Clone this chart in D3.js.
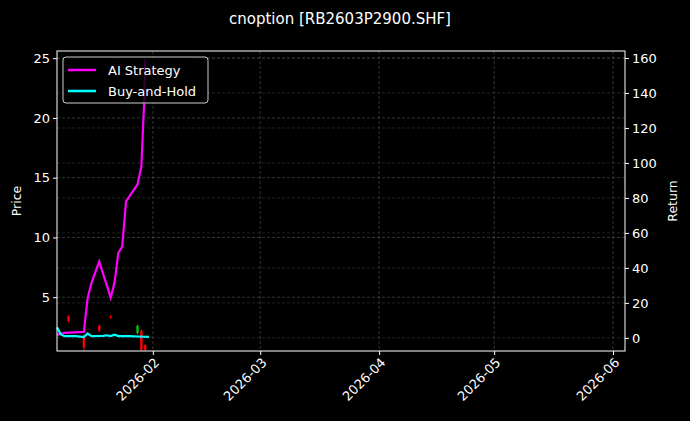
<!DOCTYPE html><html><head><meta charset="utf-8"><script src="https://cdn.jsdelivr.net/npm/d3@7"></script>
<style>body{margin:0;background:#000}text{font-family:"DejaVu Sans",sans-serif}</style></head><body><svg width="690" height="421"></svg><script>
const aiDates=["2026-01-07","2026-01-09","2026-01-14","2026-01-15","2026-01-16","2026-01-18","2026-01-21","2026-01-22","2026-01-23","2026-01-24","2026-01-25","2026-01-28","2026-01-29","2026-01-29T18:00","2026-01-30"];
const aiRet=[1.7,2.9,3.4,23,31.5,43.6,23,31.5,48.7,52,78,87.7,98,136,159];
const bhDates=["2026-01-07","2026-01-08","2026-01-09","2026-01-12","2026-01-14","2026-01-15","2026-01-16","2026-01-19","2026-01-20","2026-01-21","2026-01-22","2026-01-23","2026-01-26","2026-01-28","2026-01-31"];
const bhRet=[6,2,1,1,0.5,2.5,1,1.2,1.5,1,1.8,1,1,0.8,0.6];
const cDates=["2026-01-10","2026-01-14","2026-01-18","2026-01-21","2026-01-28","2026-01-29","2026-01-30"];
const cOpen=[3.4,1.8,2.6,3.4,2.0,2.2,1.0];
const cClose=[3.0,0.8,2.2,3.3,2.6,0.6,0.6];
const cHigh=[3.5,1.9,2.7,3.5,2.7,2.3,1.1];
const cLow=[2.9,0.5,2.1,3.2,1.9,0.5,0.5];
const yTicks=[5,10,15,20,25], rTicks=[0,20,40,60,80,100,120,140,160];
const xTicks=["2026-02-01","2026-03-01","2026-04-01","2026-05-01","2026-06-01"];
const p=d3.timeParse("%Y-%m-%d"), pp=s=>s.includes("T")?new Date(s):p(s);
const svg=d3.select("svg");
const L=57,R=625,T=51,B=351;
const x=d3.scaleTime().domain([p("2026-01-07"),new Date("2026-06-04T03:00")]).range([L,R]);
const y=d3.scaleLinear().domain([0.5,25.6]).range([B,T]);
const r=d3.scaleLinear().domain([-7.5,164]).range([B,T]);
const g=svg.append("g");
xTicks.forEach(t=>g.append("line").attr("x1",x(p(t))).attr("x2",x(p(t))).attr("y1",T).attr("y2",B).attr("stroke","#555").attr("stroke-dasharray","3,2").attr("stroke-width",0.6));
yTicks.forEach(t=>g.append("line").attr("x1",L).attr("x2",R).attr("y1",y(t)).attr("y2",y(t)).attr("stroke","#555").attr("stroke-dasharray","3,2").attr("stroke-width",0.6));
rTicks.forEach(t=>g.append("line").attr("x1",L).attr("x2",R).attr("y1",r(t)).attr("y2",r(t)).attr("stroke","#444").attr("stroke-dasharray","3,2").attr("stroke-width",0.5));
cDates.forEach((d,i)=>{const c=cClose[i]>=cOpen[i]?"#0c0":"#f00";const cx=x(pp(d));
g.append("line").attr("x1",cx).attr("x2",cx).attr("y1",y(cHigh[i])).attr("y2",y(cLow[i])).attr("stroke",c);
g.append("rect").attr("x",cx-1.2).attr("width",2.4).attr("y",y(Math.max(cOpen[i],cClose[i]))).attr("height",Math.max(1,Math.abs(y(cOpen[i])-y(cClose[i])))).attr("fill",c);});
const ln=d3.line().x(d=>x(pp(d[0]))).y(d=>r(d[1]));
g.append("path").attr("d",ln(aiDates.map((d,i)=>[d,aiRet[i]]))).attr("fill","none").attr("stroke","#f0f").attr("stroke-width",2.2);
g.append("path").attr("d",ln(bhDates.map((d,i)=>[d,bhRet[i]]))).attr("fill","none").attr("stroke","#0ff").attr("stroke-width",2.2);
g.append("rect").attr("x",L).attr("y",T).attr("width",R-L).attr("height",B-T).attr("fill","none").attr("stroke","#fff");
const ax=svg.append("g").attr("transform",`translate(0,${B})`).call(d3.axisBottom(x).tickValues(xTicks.map(p)).tickFormat(d3.timeFormat("%Y-%m")).tickSize(4));
ax.selectAll("text").attr("transform","rotate(-45)").style("text-anchor","end").attr("dx","-0.3em").attr("dy","0.5em");
const ay=svg.append("g").attr("transform",`translate(${L},0)`).call(d3.axisLeft(y).tickValues(yTicks).tickSize(4));
const ar=svg.append("g").attr("transform",`translate(${R},0)`).call(d3.axisRight(r).tickValues(rTicks).tickSize(4));
[ax,ay,ar].forEach(a=>{a.select(".domain").remove();a.selectAll("line").attr("stroke","#fff");a.selectAll("text").attr("fill","#fff").style("font-size","13px");});
svg.append("text").attr("x",340).attr("y",24).attr("text-anchor","middle").attr("fill","#fff").style("font-size","15px").text("cnoption [RB2603P2900.SHF]");
svg.append("text").attr("transform","translate(21,201) rotate(-90)").attr("text-anchor","middle").attr("fill","#fff").style("font-size","12.5px").text("Price");
svg.append("text").attr("transform","translate(677,201) rotate(-90)").attr("text-anchor","middle").attr("fill","#fff").style("font-size","12.5px").text("Return");
const lg=svg.append("g");
lg.append("rect").attr("x",63).attr("y",57).attr("width",145).attr("height",46).attr("rx",3).attr("fill","#000").attr("fill-opacity",0.8).attr("stroke","#ccc");
[["AI Strategy","#f0f"],["Buy-and-Hold","#0ff"]].forEach((d,i)=>{const yy=70+i*21;
lg.append("line").attr("x1",68).attr("x2",96).attr("y1",yy).attr("y2",yy).attr("stroke",d[1]).attr("stroke-width",2.5);
lg.append("text").attr("x",108).attr("y",yy+4.5).attr("fill","#fff").style("font-size","13px").text(d[0]);});
</script></body></html>
